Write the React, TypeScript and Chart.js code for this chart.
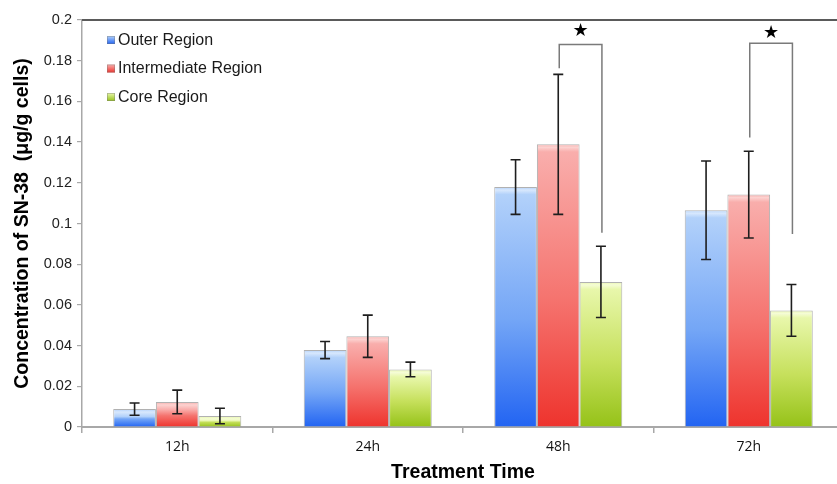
import React, { useEffect, useRef } from "react";
import { Chart, registerables } from "chart.js";

Chart.register(...registerables);

// ---- data ----
const categories = ["12h", "24h", "48h", "72h"];
const seriesNames = ["Outer Region", "Intermediate Region", "Core Region"];
const outerValues = [0.0088, 0.0378, 0.1179, 0.1065];
const outerErrors = [0.003, 0.0042, 0.0134, 0.0242];
const intermediateValues = [0.0123, 0.0446, 0.1389, 0.1142];
const intermediateErrors = [0.0058, 0.0104, 0.0344, 0.0213];
const coreValues = [0.0054, 0.0283, 0.0713, 0.0573];
const coreErrors = [0.0038, 0.0036, 0.0175, 0.0127];
const yMin = 0;
const yMax = 0.2;
const yStep = 0.02;
// significance brackets (between Intermediate and Core)
const sigCategories = ["48h", "72h"];
const sigTop = [0.188, 0.1886];
const sigLeftLow = [0.1763, 0.1422];
const sigRightLow = [0.0954, 0.0949];
const sigStar = [0.1945, 0.1935];

const palettes = [
  { top: "#b2d1fa", hi: "#d8e8fd", mid: "#74a6f6", bottom: "#2264f2" },
  { top: "#f9aeac", hi: "#fcd2d0", mid: "#f5736e", bottom: "#ee332d" },
  { top: "#e8f7ab", hi: "#f5fcd6", mid: "#c6e05c", bottom: "#95c218" },
];
const errorSets = [outerErrors, intermediateErrors, coreErrors];

const barGradient = (ctx: any) => {
  const pal = palettes[ctx.datasetIndex];
  const chart = ctx.chart;
  if (!chart.chartArea || ctx.type !== "data") return pal.bottom;
  const y = chart.scales.y;
  const top = y.getPixelForValue(ctx.raw);
  const base = y.getPixelForValue(0);
  if (!isFinite(top) || !isFinite(base) || base - top < 1) return pal.bottom;
  const g = chart.ctx.createLinearGradient(0, top, 0, base);
  const h = base - top;
  const hl = Math.min(0.3, 3 / h);
  g.addColorStop(0, pal.top);
  g.addColorStop(hl, pal.hi);
  g.addColorStop(Math.min(0.45, hl * 2.5), pal.top);
  g.addColorStop(0.55, pal.mid);
  g.addColorStop(1, pal.bottom);
  return g;
};

const errorBarPlugin = {
  id: "errorBars",
  afterDatasetsDraw(chart: any) {
    const { ctx } = chart;
    const y = chart.scales.y;
    chart.data.datasets.forEach((ds: any, i: number) => {
      const meta = chart.getDatasetMeta(i);
      meta.data.forEach((bar: any, j: number) => {
        const v = ds.data[j];
        const e = errorSets[i][j];
        const yHi = y.getPixelForValue(v + e);
        const yLo = y.getPixelForValue(v - e);
        ctx.save();
        ctx.strokeStyle = "#1e1e1e";
        ctx.lineWidth = 1.6;
        ctx.beginPath();
        ctx.moveTo(bar.x, yHi);
        ctx.lineTo(bar.x, yLo);
        ctx.moveTo(bar.x - 5, yHi);
        ctx.lineTo(bar.x + 5, yHi);
        ctx.moveTo(bar.x - 5, yLo);
        ctx.lineTo(bar.x + 5, yLo);
        ctx.stroke();
        ctx.restore();
      });
    });
  },
};

const annotationPlugin = {
  id: "annotations",
  afterDraw(chart: any) {
    const { ctx, chartArea } = chart;
    const y = chart.scales.y;
    // top frame line
    ctx.save();
    ctx.strokeStyle = "#5a5a5a";
    ctx.lineWidth = 2;
    ctx.beginPath();
    ctx.moveTo(chartArea.left, chartArea.top);
    ctx.lineTo(chart.width, chartArea.top);
    ctx.stroke();
    ctx.restore();

    // significance brackets
    const m1 = chart.getDatasetMeta(1);
    const m2 = chart.getDatasetMeta(2);
    sigCategories.forEach((cat, k) => {
      const idx = categories.indexOf(cat);
      const xl = m1.data[idx].x + 1;
      const xr = m2.data[idx].x + 1;
      const yt = y.getPixelForValue(sigTop[k]);
      ctx.save();
      ctx.strokeStyle = "#7a7a7a";
      ctx.lineWidth = 1.5;
      ctx.beginPath();
      ctx.moveTo(xl, y.getPixelForValue(sigLeftLow[k]));
      ctx.lineTo(xl, yt);
      ctx.lineTo(xr, yt);
      ctx.lineTo(xr, y.getPixelForValue(sigRightLow[k]));
      ctx.stroke();
      ctx.fillStyle = "#000";
      ctx.font = "18px 'DejaVu Sans'";
      ctx.textAlign = "center";
      ctx.textBaseline = "middle";
      ctx.fillText("\u2605", (xl + xr) / 2, y.getPixelForValue(sigStar[k]));
      ctx.restore();
    });

    // legend
    ctx.save();
    ctx.font = "16px 'Liberation Sans', Arial, sans-serif";
    ctx.textBaseline = "middle";
    ctx.textAlign = "left";
    seriesNames.forEach((name, i) => {
      const cy = chartArea.top + 20 + i * 28.5;
      const bx = chartArea.left + 25;
      const g = ctx.createLinearGradient(0, cy - 4, 0, cy + 4);
      g.addColorStop(0, palettes[i].top);
      g.addColorStop(1, palettes[i].bottom);
      ctx.fillStyle = g;
      ctx.fillRect(bx, cy - 4, 8, 8);
      ctx.strokeStyle = "rgba(120,120,120,0.5)";
      ctx.lineWidth = 0.8;
      ctx.strokeRect(bx + 0.4, cy - 3.6, 7.2, 7.2);
      ctx.fillStyle = "#1a1a1a";
      ctx.fillText(name, chartArea.left + 36, cy + 0.5);
    });
    ctx.restore();
  },
};

export default function App() {
  const canvasRef = useRef<HTMLCanvasElement | null>(null);

  useEffect(() => {
    if (!canvasRef.current) return;
    const seriesValues = [outerValues, intermediateValues, coreValues];
    const chart = new Chart(canvasRef.current, {
      type: "bar",
      data: {
        labels: categories,
        datasets: seriesNames.map((name, i) => ({
          label: name,
          data: seriesValues[i],
          backgroundColor: barGradient,
          borderColor: "rgba(100,100,100,0.5)",
          borderWidth: 1,
          categoryPercentage: 0.672,
          barPercentage: 1.0,
        })),
      },
      options: {
        responsive: false,
        animation: false,
        devicePixelRatio: 1,
        layout: { padding: { top: 20, left: 0, right: 1, bottom: 0 } },
        plugins: {
          legend: { display: false },
          tooltip: { enabled: false },
        },
        scales: {
          x: {
            grid: {
              display: true,
              offset: true,
              drawOnChartArea: false,
              tickLength: 6,
              color: "#a8a8a8",
              lineWidth: 1.5,
            },
            border: { display: true, color: "#a8a8a8", width: 2 },
            ticks: {
              color: "#111",
              padding: 6,
              font: { family: "'Open Sans', sans-serif", size: 14 },
            },
            title: {
              display: true,
              text: "Treatment Time",
              color: "#000",
              font: { family: "'Liberation Sans', Arial, sans-serif", size: 19.5, weight: "bold" },
              padding: { top: 0, bottom: 0 },
            },
            afterFit: (scale: any) => {
              scale.height = 57;
            },
          },
          y: {
            min: yMin,
            max: yMax,
            ticks: {
              stepSize: yStep,
              color: "#222",
              padding: 5,
              font: { family: "'Liberation Sans', Arial, sans-serif", size: 14.5 },
              callback: (v: any) => String(Number(Number(v).toFixed(2))),
            },
            grid: {
              display: true,
              drawOnChartArea: false,
              tickLength: 5,
              color: "#a8a8a8",
              lineWidth: 1.2,
            },
            border: { display: true, color: "#a8a8a8", width: 1.5 },
            title: {
              display: true,
              text: "Concentration of SN-38  (\u03bcg/g cells)",
              color: "#000",
              font: { family: "'Liberation Sans', Arial, sans-serif", size: 19.5, weight: "bold" },
              padding: { top: 11, bottom: 0 },
            },
            afterFit: (scale: any) => {
              scale.width = 82;
            },
          },
        },
      },
      plugins: [errorBarPlugin, annotationPlugin],
    });
    return () => chart.destroy();
  }, []);

  return (
    <div
      style={{
        position: "fixed",
        left: 0,
        top: 0,
        width: 837,
        height: 484,
        overflow: "hidden",
        background: "#fff",
      }}
    >
      <canvas ref={canvasRef} width={845} height={484} style={{ display: "block" }} />
    </div>
  );
}
